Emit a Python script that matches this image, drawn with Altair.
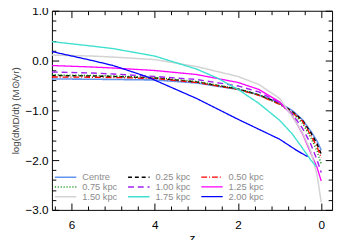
import altair as alt
import pandas as pd

# ---- data ----
names = ["Centre", "0.25 kpc", "0.50 kpc", "0.75 kpc", "1.00 kpc",
         "1.25 kpc", "1.50 kpc", "1.75 kpc", "2.00 kpc"]

z_common = [6.47, 5.5, 5.0, 4.0, 3.0, 2.0, 1.5, 1.0, 0.7, 0.45, 0.25, 0.1, 0.0]
y_centre = [-0.37, -0.375, -0.38, -0.39, -0.45, -0.58, -0.69, -0.85, -1.0, -1.19, -1.42, -1.62, -1.8]
y_025 = [-0.30, -0.31, -0.32, -0.35, -0.43, -0.57, -0.69, -0.86, -1.02, -1.2, -1.45, -1.68, -1.88]
y_050 = [-0.33, -0.335, -0.34, -0.36, -0.44, -0.58, -0.70, -0.88, -1.04, -1.22, -1.5, -1.74, -1.95]
y_075 = [-0.29, -0.30, -0.31, -0.34, -0.42, -0.57, -0.69, -0.87, -1.05, -1.26, -1.55, -1.82, -2.08]
y_100 = [-0.23, -0.25, -0.27, -0.32, -0.38, -0.51, -0.63, -0.85, -1.07, -1.36, -1.68, -2.0, -2.25]
y_125 = [-0.10, -0.13, -0.15, -0.20, -0.28, -0.44, -0.58, -0.83, -1.1, -1.47, -1.86, -2.15, -2.42]
y_150 = [0.11, 0.09, 0.07, 0.02, -0.12, -0.32, -0.48, -0.76, -1.12, -1.45, -1.82, -2.3, -2.85]

z_175 = [6.47, 5.5, 5.0, 4.0, 3.0, 2.5, 2.0, 1.5, 1.0, 0.7, 0.45, 0.25, 0.12]
y_175 = [0.38, 0.29, 0.24, 0.09, -0.17, -0.35, -0.58, -0.86, -1.2, -1.47, -1.76, -2.0, -2.13]

z_200 = [6.47, 5.5, 5.0, 4.2, 3.0, 2.0, 1.5, 1.0, 0.6, 0.33]
y_200 = [0.18, 0.0, -0.1, -0.32, -0.76, -1.18, -1.38, -1.58, -1.8, -1.93]

colors = ["#6495ED", "#000000", "#FF0000", "#008B00", "#A020F0",
          "#FF00FF", "#D3D3D3", "#40E0D0", "#0000FF"]
dashes = [[1, 0], [4, 3], [6, 2, 1, 2], [1, 2], [6, 4],
          [1, 0], [1, 0], [1, 0], [1, 0]]
widths = [1.6, 1.5, 1.3, 1.3, 1.5, 2.0, 1.6, 1.1, 1.6]

x_major = [0, 2, 4, 6]
x_minor = [0.4, 0.8, 1.2, 1.6, 2.4, 2.8, 3.2, 3.6, 4.4, 4.8, 5.2, 5.6, 6.4]
y_major = [-3, -2, -1, 0, 1]
y_minor = [round(-3 + 0.2 * i, 1) for i in range(21) if i % 5 != 0]

# ---- build the table ----
series_z = [z_common] * 7 + [z_175, z_200]
series_y = [y_centre, y_025, y_050, y_075, y_100, y_125, y_150, y_175, y_200]
rows = []
for n, zs, ys in zip(names, series_z, series_y):
    for i, (zz, yy) in enumerate(zip(zs, ys)):
        rows.append({"s": n, "z": zz, "v": yy, "o": i})
df = pd.DataFrame(rows)

# legend filled row-major with 3 columns -> reorder to look column-major
order = [0, 3, 6, 1, 4, 7, 2, 5, 8]
leg_dom = [names[i] for i in order]
leg_col = [colors[i] for i in order]
leg_dash = [dashes[i] for i in order]
leg_w = [widths[i] for i in order]

FONT = "Liberation Sans"
xs = alt.Scale(domain=[-0.26, 6.47], reverse=True, nice=False, zero=False)
ys = alt.Scale(domain=[-3.0, 1.0], nice=False, zero=False)

legend = alt.Legend(orient="none", legendX=2, legendY=166, columns=3, title=None,
                    symbolType="stroke", symbolSize=484, labelFontSize=9.5,
                    labelColor="#8c8c8c", labelFont=FONT, rowPadding=0,
                    columnPadding=10, labelOffset=5, padding=0, clipHeight=9)

lines = alt.Chart(df).mark_line().encode(
    x=alt.X("z:Q", scale=xs, axis=alt.Axis(values=x_major, format="d", ticks=False,
            domain=False, grid=False, labelFont=FONT, labelFontSize=12,
            labelColor="black", labelPadding=10, title="z", titleFont=FONT,
            titleFontSize=12, titleFontWeight="normal", titlePadding=2)),
    y=alt.Y("v:Q", scale=ys, axis=alt.Axis(values=y_major, format=".1f", ticks=False,
            domain=False, grid=False, labelFont=FONT, labelFontSize=12,
            labelColor="black", labelPadding=4,
            title="log(dMD/dt)  (M⊙/yr)", titleFont=FONT, titleFontSize=10,
            titleFontWeight="normal", titleColor="#444444", titlePadding=5)),
    color=alt.Color("s:N", scale=alt.Scale(domain=leg_dom, range=leg_col), legend=legend),
    strokeDash=alt.StrokeDash("s:N", scale=alt.Scale(domain=leg_dom, range=leg_dash), legend=legend),
    strokeWidth=alt.StrokeWidth("s:N", scale=alt.Scale(domain=leg_dom, range=leg_w), legend=legend),
    order="o:Q",
)


def tick_layer(xo, yo, xv, yv, size):
    return alt.Chart(df).mark_point(opacity=0).encode(
        x=alt.X("z:Q", scale=xs, axis=alt.Axis(orient=xo, values=xv, tickSize=size,
                offset=-size, labels=False, domain=False, grid=False, title=None,
                tickColor="black", tickWidth=1)),
        y=alt.Y("v:Q", scale=ys, axis=alt.Axis(orient=yo, values=yv, tickSize=size,
                offset=-size, labels=False, domain=False, grid=False, title=None,
                tickColor="black", tickWidth=1)),
    )


chart = alt.layer(
    lines,
    tick_layer("bottom", "left", x_major, y_major, 7),
    tick_layer("bottom", "left", x_minor, y_minor, 4),
    tick_layer("top", "right", x_major, y_major, 7),
    tick_layer("top", "right", x_minor, y_minor, 4),
).resolve_axis(x="independent", y="independent").properties(
    width=287, height=204,
    autosize=alt.AutoSizeParams(type="none"),
    padding={"left": 45, "top": 0, "right": 3, "bottom": 28},
).configure_view(stroke="black", strokeWidth=1)

chart.save("out.html", embed_options={"renderer": "svg", "actions": False})
